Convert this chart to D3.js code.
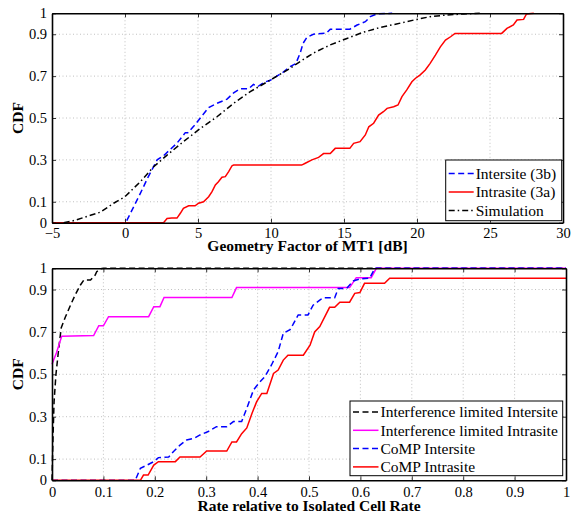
<!DOCTYPE html>
<html>
<head>
<meta charset="utf-8">
<script src="https://cdn.jsdelivr.net/npm/d3@7"></script>
<style>
  body { margin: 0; background: #fff; }
  svg { display: block; }
</style>
</head>
<body>
<div id="chart"></div>
<script>
// ---- data ----
const geoTicks = [-5, 0, 5, 10, 15, 20, 25, 30];
const cdfTicks = [0, 0.1, 0.3, 0.5, 0.7, 0.9, 1];
const rateTicks = [0, 0.1, 0.2, 0.3, 0.4, 0.5, 0.6, 0.7, 0.8, 0.9, 1];

// top panel: geometry factor [dB] vs CDF
const intersite3b = [[-5,0],[0.05,0],[0.48,0.06],[1.05,0.14],[1.6,0.22],[2.2,0.30],[2.64,0.32],[3.1,0.35],
  [3.56,0.38],[4.13,0.43],[4.3,0.43],[4.7,0.46],[5.16,0.50],[5.73,0.55],[6.3,0.57],[6.99,0.59],[7.44,0.62],
  [7.9,0.64],[8.47,0.64],[8.8,0.66],[9.1,0.65],[9.5,0.67],[9.95,0.68],[10.4,0.70],[10.86,0.72],[11.3,0.745],
  [11.7,0.76],[12.0,0.81],[12.2,0.857],[12.46,0.885],[12.9,0.90],[13.8,0.905],[14.06,0.924],[15.4,0.924],
  [15.9,0.944],[16.46,0.96],[16.8,0.984],[17.26,0.997],[18.3,1]];
const intrasite3a = [[-5,0],[2.64,0],[2.88,0.02],[3.2,0.022],[3.56,0.022],[3.79,0.045],[4.0,0.069],[4.36,0.081],
  [4.8,0.081],[5.04,0.093],[5.38,0.10],[5.73,0.124],[5.96,0.148],[6.19,0.18],[6.4,0.196],[6.64,0.217],
  [6.87,0.22],[7.1,0.244],[7.33,0.272],[7.44,0.275],[12.1,0.275],[12.35,0.284],[12.8,0.30],[13.26,0.312],
  [13.6,0.33],[14.06,0.33],[14.4,0.355],[15.4,0.355],[15.66,0.379],[16.1,0.387],[16.46,0.419],[16.7,0.458],
  [17.03,0.475],[17.37,0.514],[17.7,0.53],[17.95,0.546],[18.4,0.554],[18.7,0.562],[18.97,0.602],[19.3,0.634],
  [19.65,0.673],[19.9,0.69],[20.2,0.705],[20.57,0.729],[20.9,0.761],[21.26,0.80],[21.6,0.84],[21.95,0.872],
  [22.3,0.888],[22.6,0.904],[25.8,0.904],[26.16,0.928],[26.6,0.944],[26.85,0.968],[27.3,0.971],[27.5,0.997],
  [28.0,1]];
const simulation = [[-4.2,0],[-3.5,0.01],[-2.6,0.03],[-1.7,0.05],[-0.78,0.093],[0,0.124],[1.05,0.196],
  [1.96,0.267],[2.88,0.323],[4.0,0.387],[5.16,0.45],[6.3,0.506],[7.44,0.57],[8.58,0.626],[9.95,0.681],
  [11.3,0.737],[12.0,0.77],[12.9,0.81],[14.06,0.849],[15.2,0.88],[16.3,0.909],[17.5,0.933],[18.6,0.949],
  [19.8,0.968],[20.9,0.984],[22.05,0.992],[23.2,0.997],[24.3,1]];

// bottom panel: rate relative to isolated cell rate vs CDF
const ifIntersite = [[0,0],[0.0017,0.18],[0.004,0.37],[0.0077,0.50],[0.013,0.62],[0.018,0.72],[0.026,0.77],
  [0.036,0.826],[0.045,0.874],[0.055,0.92],[0.062,0.945],[0.075,0.945],[0.084,0.968],[0.087,0.984],
  [0.094,0.997],[0.1,1],[1,1]];
const ifIntrasite = [[0,0.547],[0.0085,0.60],[0.019,0.68],[0.081,0.683],[0.091,0.729],[0.1,0.729],[0.11,0.772],
  [0.188,0.772],[0.198,0.819],[0.21,0.819],[0.218,0.862],[0.35,0.862],[0.359,0.909],[0.579,0.909],
  [0.592,0.956],[0.621,0.956],[0.631,1],[1,1]];
const compIntersite = [[0,0],[0.162,0],[0.172,0.057],[0.185,0.072],[0.198,0.088],[0.207,0.107],[0.227,0.11],
  [0.236,0.135],[0.249,0.166],[0.262,0.19],[0.278,0.20],[0.288,0.214],[0.304,0.23],[0.32,0.253],[0.34,0.253],
  [0.353,0.277],[0.369,0.277],[0.379,0.34],[0.392,0.426],[0.402,0.457],[0.414,0.489],[0.427,0.544],
  [0.44,0.607],[0.45,0.694],[0.463,0.71],[0.469,0.735],[0.479,0.78],[0.498,0.78],[0.508,0.826],[0.521,0.85],
  [0.527,0.861],[0.55,0.861],[0.557,0.905],[0.573,0.905],[0.586,0.94],[0.599,0.95],[0.618,0.953],[0.628,1],[1,1]];
const compIntrasite = [[0,0],[0.172,0],[0.178,0.025],[0.187,0.025],[0.198,0.072],[0.207,0.088],[0.24,0.088],
  [0.249,0.11],[0.288,0.11],[0.301,0.138],[0.34,0.138],[0.35,0.181],[0.359,0.181],[0.369,0.22],[0.379,0.247],
  [0.389,0.315],[0.398,0.37],[0.408,0.41],[0.418,0.41],[0.431,0.504],[0.44,0.52],[0.45,0.567],[0.459,0.59],
  [0.489,0.59],[0.502,0.637],[0.511,0.70],[0.521,0.725],[0.54,0.816],[0.55,0.816],[0.56,0.84],[0.579,0.84],
  [0.589,0.882],[0.599,0.886],[0.608,0.929],[0.647,0.929],[0.657,0.953],[1,0.953]];

// ---- layout ----
const width = 571;
const height = 515;
const serif = "Liberation Serif";

const svg = d3.select("#chart").append("svg")
    .attr("width", width)
    .attr("height", height)
    .attr("font-family", serif)
    .style("background", "#fff");

function drawPanel(p) {
    const x = d3.scaleLinear().domain(p.xDomain).range([p.left, p.right]);
    const y = d3.scaleLinear().domain([0, 1]).range([p.bottom, p.top]);
    const g = svg.append("g");

    // dotted grid
    g.append("g").selectAll("line")
        .data(p.xTicks.filter(d => d !== p.xDomain[0] && d !== p.xDomain[1]))
        .join("line")
        .attr("x1", d => x(d)).attr("x2", d => x(d))
        .attr("y1", p.top).attr("y2", p.bottom)
        .attr("stroke", "#b0b0b0").attr("stroke-width", 0.8).attr("stroke-dasharray", "1,2.5");
    g.append("g").selectAll("line")
        .data(cdfTicks.filter(d => d !== 0 && d !== 1))
        .join("line")
        .attr("x1", p.left).attr("x2", p.right)
        .attr("y1", d => y(d)).attr("y2", d => y(d))
        .attr("stroke", "#b0b0b0").attr("stroke-width", 0.8).attr("stroke-dasharray", "1,2.5");

    // curves
    const line = d3.line().x(d => x(d[0])).y(d => y(d[1]));
    p.series.forEach(s => {
        g.append("path")
            .datum(s.values)
            .attr("fill", "none")
            .attr("stroke", s.color)
            .attr("stroke-width", 1.5)
            .attr("stroke-dasharray", s.dash)
            .attr("d", line);
    });

    // axes (inward ticks, box)
    const xb = g.append("g").attr("transform", `translate(0,${p.bottom})`)
        .call(d3.axisBottom(x).tickValues(p.xTicks).tickFormat(p.fmt).tickSizeInner(-4).tickSizeOuter(0).tickPadding(p.xPad));
    const xt = g.append("g").attr("transform", `translate(0,${p.top})`)
        .call(d3.axisTop(x).tickValues(p.xTicks).tickFormat("").tickSizeInner(-4).tickSizeOuter(0));
    const yl = g.append("g").attr("transform", `translate(${p.left},0)`)
        .call(d3.axisLeft(y).tickValues(cdfTicks).tickFormat(d3.format("")).tickSizeInner(-4).tickSizeOuter(0).tickPadding(5));
    const yr = g.append("g").attr("transform", `translate(${p.right},0)`)
        .call(d3.axisRight(y).tickValues(cdfTicks).tickFormat("").tickSizeInner(-4).tickSizeOuter(0));
    [xb, xt, yl, yr].forEach(a => {
        a.attr("font-family", serif).attr("font-size", 14.5);
        a.select(".domain").attr("stroke", "#000").attr("stroke-width", 1.6);
        a.selectAll(".tick line").attr("stroke", "#000").attr("stroke-width", 0.8);
        a.selectAll(".tick text").attr("fill", "#000");
    });

    // axis titles
    g.append("text")
        .attr("x", (p.left + p.right) / 2).attr("y", p.xLabelY)
        .attr("text-anchor", "middle")
        .attr("font-size", 15.5).attr("font-weight", "bold")
        .text(p.xLabel);
    g.append("text")
        .attr("transform", `translate(23,${(p.top + p.bottom) / 2}) rotate(-90)`)
        .attr("text-anchor", "middle")
        .attr("font-size", 15.5).attr("font-weight", "bold")
        .text("CDF");

    // legend
    const lg = g.append("g");
    lg.append("rect")
        .attr("x", p.legend.x).attr("y", p.legend.y)
        .attr("width", p.legend.w).attr("height", p.legend.h)
        .attr("fill", "#fff").attr("stroke", "#000").attr("stroke-width", 1);
    p.series.forEach((s, i) => {
        const ry = p.legend.y + p.legend.row0 + i * p.legend.step;
        lg.append("line")
            .attr("x1", p.legend.x + 3).attr("x2", p.legend.x + p.legend.lineW)
            .attr("y1", ry).attr("y2", ry)
            .attr("stroke", s.color).attr("stroke-width", 1.5)
            .attr("stroke-dasharray", s.dash);
        lg.append("text")
            .attr("x", p.legend.x + p.legend.lineW + 2).attr("y", ry)
            .attr("dy", "0.35em")
            .attr("font-size", 15.5)
            .text(s.name);
    });
}

drawPanel({
    left: 52, right: 563, top: 13.3, bottom: 222.7,
    xDomain: [-5, 30], xTicks: geoTicks, xPad: 5,
    fmt: d => d < 0 ? "\u2212" + Math.abs(d) : String(d),
    xLabel: "Geometry Factor of MT1 [dB]", xLabelY: 251,
    series: [
        { name: "Intersite (3b)", values: intersite3b, color: "#0000ff", dash: "6,3.5" },
        { name: "Intrasite (3a)", values: intrasite3a, color: "#ff0000", dash: null },
        { name: "Simulation", values: simulation, color: "#000", dash: "6,3,1.5,3" }
    ],
    legend: { x: 445.7, y: 160, w: 116, h: 60.7, row0: 13.5, step: 18.5, lineW: 28 }
});

drawPanel({
    left: 52, right: 566, top: 268.3, bottom: 480.3,
    xDomain: [0, 1], xTicks: rateTicks, xPad: 6,
    fmt: d => String(d),
    xLabel: "Rate relative to Isolated Cell Rate", xLabelY: 511,
    series: [
        { name: "Interference limited Intersite", values: ifIntersite, color: "#000", dash: "6,3.5" },
        { name: "Interference limited Intrasite", values: ifIntrasite, color: "#ff00ff", dash: null },
        { name: "CoMP Intersite", values: compIntersite, color: "#0000ff", dash: "6,3.5" },
        { name: "CoMP Intrasite", values: compIntrasite, color: "#ff0000", dash: null }
    ],
    legend: { x: 350, y: 401, w: 212.7, h: 74.7, row0: 11, step: 18.3, lineW: 28.5 }
});
</script>
</body>
</html>
